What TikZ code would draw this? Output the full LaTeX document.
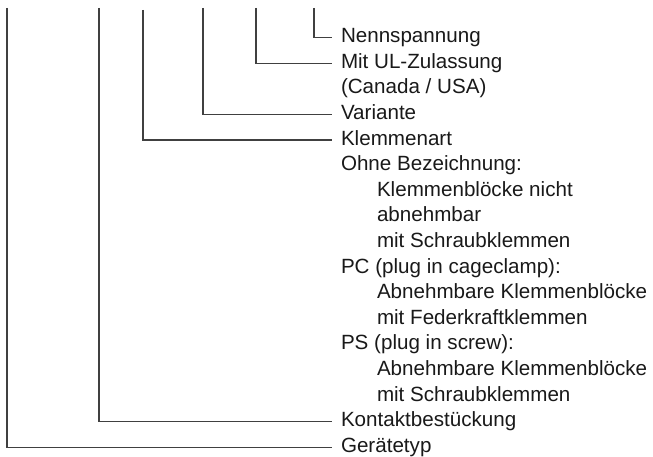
\documentclass[tikz,border=0pt]{standalone}
\usepackage{fontspec}
\setmainfont{Liberation Sans}
\usetikzlibrary{positioning}

\tikzset{
  lead/.style={draw=black!75, line width=1.2bp},
  lbl/.style={anchor=west, inner xsep=9bp, inner ysep=3.8bp, outer sep=0pt,
              text height=14bp, text depth=4bp,
              font=\fontsize{20.6bp}{24bp}\selectfont, text=black!90},
  next/.style={below=0pt of #1.south west, anchor=north west},
}

\begin{document}
\begin{tikzpicture}[x=1bp,y=-1bp]
\useasboundingbox (0,0) rectangle (653,457);

% tops of the leads
\coordinate (vtyp)  at (7,8);
\coordinate (vkont) at (99,8);
\coordinate (vklem) at (143,10);
\coordinate (vvar)  at (203,8);
\coordinate (vul)   at (256,8);
\coordinate (vnenn) at (314,8);

% labels
\node[lbl] (nenn) at (332,37.7) {Nennspannung};
\node[lbl, next=nenn] (ul) {Mit UL-Zulassung};
\node[lbl, next=ul] (ul2) {(Canada / USA)};
\node[lbl, next=ul2] (var) {Variante};
\node[lbl, next=var] (klem) {Klemmenart};
\node[lbl, next=klem] (ohne) {Ohne Bezeichnung:};
\node[lbl, next=ohne, xshift=36bp] (ohne1) {Klemmenblöcke nicht};
\node[lbl, next=ohne1] (ohne2) {abnehmbar};
\node[lbl, next=ohne2] (ohne3) {mit Schraubklemmen};
\node[lbl, next=ohne3, xshift=-36bp] (pc) {PC (plug in cageclamp):};
\node[lbl, next=pc, xshift=36bp] (pc1) {Abnehmbare Klemmenblöcke};
\node[lbl, next=pc1] (pc2) {mit Federkraftklemmen};
\node[lbl, next=pc2, xshift=-36bp] (ps) {PS (plug in screw):};
\node[lbl, next=ps, xshift=36bp] (ps1) {Abnehmbare Klemmenblöcke};
\node[lbl, next=ps1] (ps2) {mit Schraubklemmen};
\node[lbl, next=ps2, xshift=-36bp] (kont) {Kontaktbestückung};
\node[lbl, next=kont] (typ) {Gerätetyp};

% leads
\draw[lead] (vnenn) |- (nenn);
\draw[lead] (vul) |- (ul);
\draw[lead] (vvar) |- (var);
\draw[lead] (vklem) |- (klem);
\draw[lead] (vkont) |- (kont);
\draw[lead] (vtyp) |- (typ);
\end{tikzpicture}
\end{document}
